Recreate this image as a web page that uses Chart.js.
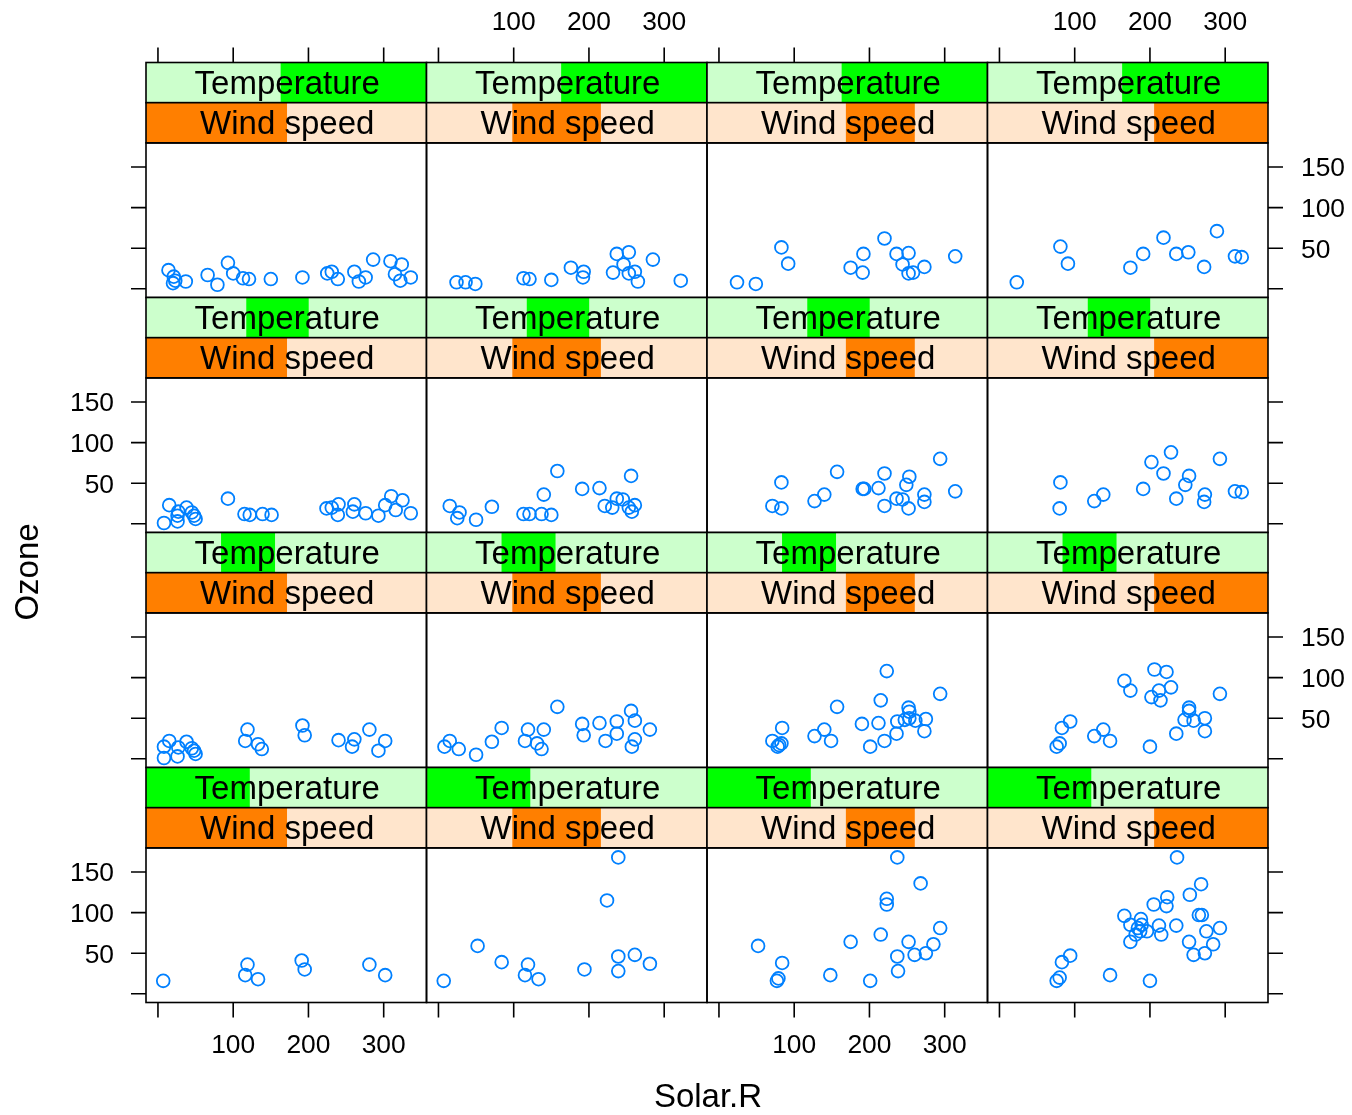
<!DOCTYPE html>
<html><head><meta charset="utf-8">
<script src="https://cdn.jsdelivr.net/npm/chart.js@4.4.0/dist/chart.umd.min.js"></script>
<style>
html,body{margin:0;padding:0;background:#fff;}
#wrap{position:relative;width:1352px;height:1115px;background:#fff;}
#wrap canvas{position:absolute;left:0;top:0;}
</style></head><body><div id="wrap"></div>
<script>
// ---- Data: Ozone vs Solar.R, conditioned on Temperature (rows, level 4 = top) and Wind speed (columns) ----
const solarT4W1 = [14,21,20,23,37,66,79,93,100,113,121,150,192,225,231,239,261,267,276,286,309,324,315,322,336];
const ozoneT4W1 = [23,15,7,10,9,17,5,32,19,13,12,12,14,19,21,12,21,9,14,36,34,30,18,10,14];
const solarT4W2 = [24,36,49,113,121,150,176,193,192,232,237,253,246,253,261,265,285,322];
const ozoneT4W2 = [8,8,6,13,12,11,26,21,14,20,43,45,30,19,21,9,36,10];
const solarT4W3 = [24,49,83,92,175,192,191,220,236,252,244,252,258,273,314];
const ozoneT4W3 = [8,6,51,31,26,43,20,62,43,44,30,19,20,27,40];
const solarT4W4 = [23,81,91,174,191,218,235,251,272,289,313,322];
const ozoneT4W4 = [8,52,31,26,43,63,43,45,27,71,40,39];

const solarT3W1 = [15,8,26,26,27,38,45,50,48,93,115,122,139,151,224,231,240,239,261,259,276,293,302,310,325,316,336];
const ozoneT3W1 = [23,1,3,10,15,20,14,6,10,31,12,11,12,11,19,20,24,11,24,15,13,10,23,34,29,17,13];
const solarT3W2 = [15,28,25,50,71,113,121,137,150,140,158,191,214,221,231,237,245,253,261,257,256];
const ozoneT3W2 = [22,14,7,5,21,12,12,12,11,36,65,43,44,22,20,31,30,20,23,15,59];
const solarT3W3 = [71,83,83,127,140,157,191,193,212,220,220,236,244,249,253,252,273,273,294,314];
const ozoneT3W3 = [22,19,51,28,36,64,43,43,44,62,22,31,30,48,58,19,36,27,80,40];
const solarT3W4 = [81,80,126,138,191,202,218,228,235,247,252,273,272,293,313,322];
const ozoneT3W4 = [51,19,28,36,43,76,62,88,31,48,59,36,27,80,40,39];

const solarT2W1 = [8,15,8,26,27,38,45,50,48,119,116,133,138,192,195,240,261,258,281,302,293];
const ozoneT2W1 = [15,22,1,3,14,21,13,6,10,36,22,18,12,41,29,23,24,15,36,22,10];
const solarT2W2 = [8,15,27,50,71,84,115,119,131,137,140,158,191,193,214,222,237,237,256,261,261,257,281];
const ozoneT2W2 = [15,22,12,5,21,38,22,36,19,12,36,64,43,29,44,22,46,31,59,47,24,15,36];
const solarT2W3 = [71,78,83,80,84,127,140,149,157,190,201,212,215,220,223,236,237,247,252,253,253,261,273,275,294];
const ozoneT2W3 = [22,15,19,17,38,28,36,22,64,43,15,44,72,22,108,31,46,48,63,58,50,47,34,49,80];
const solarT2W4 = [76,80,83,94,126,138,147,166,174,200,202,206,212,214,222,228,235,246,252,252,258,273,273,293];
const ozoneT2W4 = [15,19,38,46,28,36,22,96,84,15,76,110,84,72,107,88,31,48,63,59,47,50,34,80];

const solarT1W1 = [7,119,116,133,191,195,281,302];
const ozoneT1W1 = [16,36,23,18,41,30,36,23];
const solarT1W2 = [7,52,84,115,119,133,194,224,239,239,239,261,281];
const ozoneT1W2 = [16,59,39,23,36,18,30,115,168,46,28,48,37];
const solarT1W3 = [52,77,79,84,148,175,201,215,223,223,237,237,238,252,260,268,275,285,294];
const ozoneT1W3 = [59,16,19,38,23,64,16,73,117,110,168,46,28,64,48,136,50,61,81];
const solarT1W4 = [76,80,83,94,147,166,174,174,181,184,188,189,187,196,200,205,212,215,222,223,235,252,253,258,265,269,268,273,275,284,293,236];
const ozoneT1W4 = [16,20,39,47,23,96,85,64,73,81,92,85,77,77,16,110,84,73,108,119,84,64,122,48,97,97,135,50,77,61,81,168];

// shingle intervals
const tempRange = [57, 97];
const tempLo = [57.0, 67.7, 71.3, 76.2];   // levels 1..4
const tempHi = [71.8, 75.4, 80.2, 97.0];
const windRange = [2.3, 20.7];
const windLo = [2.3, 7.93, 11.41, 13.23];  // levels 1..4
const windHi = [11.55, 13.74, 15.93, 20.7];

// axes
const xLimits = [-15.89, 356.89];
const yLimits = [-10.69, 179.69];
const xTicks = [0, 100, 200, 300];
const xTickLabels = ["", "100", "200", "300"];
const yTicks = [0, 50, 100, 150];
const yTickLabels = ["", "50", "100", "150"];

const panelData = {
  4: [[solarT4W1, ozoneT4W1],[solarT4W2, ozoneT4W2],[solarT4W3, ozoneT4W3],[solarT4W4, ozoneT4W4]],
  3: [[solarT3W1, ozoneT3W1],[solarT3W2, ozoneT3W2],[solarT3W3, ozoneT3W3],[solarT3W4, ozoneT3W4]],
  2: [[solarT2W1, ozoneT2W1],[solarT2W2, ozoneT2W2],[solarT2W3, ozoneT2W3],[solarT2W4, ozoneT2W4]],
  1: [[solarT1W1, ozoneT1W1],[solarT1W2, ozoneT1W2],[solarT1W3, ozoneT1W3],[solarT1W4, ozoneT1W4]]
};

// ---- Layout ----
const W = 1352, H = 1115;
const colLeft = [146, 426.5, 707, 987.5], colW = 280.5;
const rowStep = 235, firstRowTop = 62.5, stripH = 40.2, panelH = rowStep - 2*stripH;
const FONT = '"Liberation Sans", Arial, Helvetica, sans-serif';
const LW = 1.6;
const TICK = 15;

function panelPlugin(r, c) {
  return {
    id: 'lattice' + r + c,
    afterDraw(chart) {
      const ctx = chart.ctx;
      const a = chart.chartArea;
      const xs = chart.scales.x, ys = chart.scales.y;
      const tLevel = 4 - r, wLevel = c + 1;
      const sTop = a.top - 2*stripH;
      ctx.save();
      ctx.lineWidth = LW;
      ctx.strokeStyle = '#000';
      // strips
      const strips = [
        {y: sTop, bg: '#CCFFCC', fg: '#00FF00', lo: tempLo[tLevel-1], hi: tempHi[tLevel-1], rng: tempRange, label: 'Temperature'},
        {y: sTop + stripH, bg: '#FFE5CC', fg: '#FF7F00', lo: windLo[wLevel-1], hi: windHi[wLevel-1], rng: windRange, label: 'Wind speed'}
      ];
      for (const s of strips) {
        ctx.fillStyle = s.bg;
        ctx.fillRect(a.left, s.y, a.right - a.left, stripH);
        const x0 = a.left + (s.lo - s.rng[0]) / (s.rng[1] - s.rng[0]) * (a.right - a.left);
        const x1 = a.left + (s.hi - s.rng[0]) / (s.rng[1] - s.rng[0]) * (a.right - a.left);
        ctx.fillStyle = s.fg;
        ctx.fillRect(x0, s.y, x1 - x0, stripH);
        ctx.fillStyle = '#000';
        ctx.font = '33px ' + FONT;
        ctx.textAlign = 'center';
        ctx.textBaseline = 'alphabetic';
        ctx.fillText(s.label, (a.left + a.right)/2 + 1, s.y + 31.7);
        ctx.strokeRect(a.left, s.y, a.right - a.left, stripH);
      }
      // panel border
      ctx.strokeRect(a.left, a.top, a.right - a.left, a.bottom - a.top);
      // axes
      ctx.font = '26.4px ' + FONT;
      ctx.fillStyle = '#000';
      ctx.beginPath();
      if (r === 0) {
        xTicks.forEach(v => { const px = xs.getPixelForValue(v); ctx.moveTo(px, sTop); ctx.lineTo(px, sTop - TICK); });
      }
      if (r === 3) {
        xTicks.forEach(v => { const px = xs.getPixelForValue(v); ctx.moveTo(px, a.bottom); ctx.lineTo(px, a.bottom + TICK); });
      }
      if (c === 0) {
        yTicks.forEach(v => { const py = ys.getPixelForValue(v); ctx.moveTo(a.left, py); ctx.lineTo(a.left - TICK, py); });
      }
      if (c === 3) {
        yTicks.forEach(v => { const py = ys.getPixelForValue(v); ctx.moveTo(a.right, py); ctx.lineTo(a.right + TICK, py); });
      }
      ctx.stroke();
      ctx.textBaseline = 'alphabetic';
      if (r === 0 && (c === 1 || c === 3)) {
        ctx.textAlign = 'center';
        xTicks.forEach((v, i) => ctx.fillText(xTickLabels[i], xs.getPixelForValue(v), 30));
      }
      if (r === 3 && (c === 0 || c === 2)) {
        ctx.textAlign = 'center';
        xTicks.forEach((v, i) => ctx.fillText(xTickLabels[i], xs.getPixelForValue(v), 1053));
      }
      if (c === 0 && (r === 1 || r === 3)) {
        ctx.textAlign = 'right';
        yTicks.forEach((v, i) => ctx.fillText(yTickLabels[i], a.left - 32, ys.getPixelForValue(v) + 9.4));
      }
      if (c === 3 && (r === 0 || r === 2)) {
        ctx.textAlign = 'left';
        yTicks.forEach((v, i) => ctx.fillText(yTickLabels[i], a.right + 33, ys.getPixelForValue(v) + 9.4));
      }
      // overall axis titles
      if (r === 0 && c === 0) {
        ctx.font = '33px ' + FONT;
        ctx.textAlign = 'center';
        ctx.fillText('Solar.R', 708, 1107);
        ctx.save();
        ctx.translate(38, 572);
        ctx.rotate(-Math.PI/2);
        ctx.fillText('Ozone', 0, 0);
        ctx.restore();
      }
      ctx.restore();
    }
  };
}

const wrap = document.getElementById('wrap');
for (let r = 0; r < 4; r++) {
  for (let c = 0; c < 4; c++) {
    const tLevel = 4 - r;
    const [sx, oy] = panelData[tLevel][c];
    const cv = document.createElement('canvas');
    cv.width = W; cv.height = H;
    cv.style.width = W + 'px'; cv.style.height = H + 'px';
    wrap.appendChild(cv);
    const left = colLeft[c];
    const top = firstRowTop + r*rowStep + 2*stripH;
    new Chart(cv, {
      type: 'scatter',
      data: { datasets: [{
        data: sx.map((x, i) => ({x: x, y: oy[i]})),
        pointStyle: 'circle',
        pointRadius: 6.4,
        pointHoverRadius: 6.4,
        pointBorderWidth: 1.8,
        borderColor: '#0080FF',
        pointBorderColor: '#0080FF',
        backgroundColor: 'rgba(0,0,0,0)',
        pointBackgroundColor: 'rgba(0,0,0,0)',
        showLine: false
      }]},
      options: {
        responsive: false,
        animation: false,
        devicePixelRatio: 1,
        events: [],
        layout: { padding: { left: left, top: top, right: W - left - colW, bottom: H - top - panelH } },
        plugins: { legend: { display: false }, tooltip: { enabled: false }, title: { display: false } },
        scales: {
          x: { type: 'linear', min: xLimits[0], max: xLimits[1], display: false },
          y: { type: 'linear', min: yLimits[0], max: yLimits[1], display: false }
        }
      },
      plugins: [panelPlugin(r, c)]
    });
  }
}
</script></body></html>
